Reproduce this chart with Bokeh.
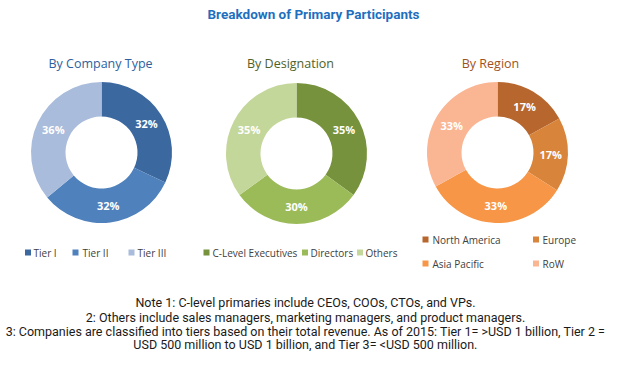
import math
from bokeh.plotting import figure
from bokeh.models import Range1d, ColumnDataSource
from bokeh.core.properties import value
from bokeh.embed import file_html
from bokeh.resources import INLINE

# ---------------- data ----------------
title = "Breakdown of Primary Participants"

company_title = "By Company Type"
company_cats = ["Tier I", "Tier II", "Tier III"]
company_vals = [32, 32, 36]
company_colors = ["#3C68A0", "#4F81BD", "#A9BCDB"]

desig_title = "By Designation"
desig_cats = ["C-Level Executives", "Directors", "Others"]
desig_vals = [35, 30, 35]
desig_colors = ["#76923C", "#9BBB59", "#C4D79B"]

region_title = "By Region"
region_cats = ["North America", "Europe", "Asia Pacific", "RoW"]
region_vals = [17, 17, 33, 33]
region_colors = ["#B7672E", "#D9843B", "#F79646", "#FAB593"]

notes = [
    "Note 1: C-level primaries include CEOs, COOs, CTOs, and VPs.",
    "2: Others include sales managers, marketing managers, and product managers.",
    "3: Companies are classified into tiers based on their total revenue. As of 2015: Tier 1= >USD 1 billion, Tier 2 =",
    "USD 500 million to USD 1 billion, and Tier 3= <USD 500 million.",
]

# ---------------- layout ----------------
W, H = 609, 351
p = figure(width=W, height=H, output_backend="svg", toolbar_location=None,
           x_range=Range1d(0, W), y_range=Range1d(367 - H, 367),
           min_border=0, outline_line_color=None)
p.axis.visible = False
p.grid.visible = False
p.background_fill_color = "white"
p.border_fill_color = "white"


def Y(py):
    return 367 - py


LABEL_FONT = "Open Sans"
NOTE_FONT = "Roboto"


def donut(cx, cy, vals, colors, r_out=70.5, r_in=36):
    total = float(sum(vals))
    cum = 0.0
    starts, ends, lx, ly, labels = [], [], [], [], []
    for v in vals:
        a0 = cum / total
        cum += v
        a1 = cum / total
        starts.append(math.pi / 2 - 2 * math.pi * a1)
        ends.append(math.pi / 2 - 2 * math.pi * a0)
        mid = math.pi / 2 - 2 * math.pi * (a0 + a1) / 2
        rm = (r_out + r_in) / 2
        lx.append(cx + rm * math.cos(mid))
        ly.append(Y(cy) + rm * math.sin(mid))
        labels.append(f"{v}%")
    src = ColumnDataSource(dict(s=starts, e=ends, c=colors))
    p.annular_wedge(x=cx, y=Y(cy), inner_radius=r_in, outer_radius=r_out,
                    start_angle="s", end_angle="e", fill_color="c",
                    line_color=None, source=src)
    p.text(x=lx, y=ly, text=labels, text_color="white",
           text_font=value(LABEL_FONT), text_font_size="11px",
           text_font_style="bold", text_align="center", text_baseline="middle")


def legend_item(mx, ty, tx, color, label):
    p.rect(x=[mx], y=[Y(ty)], width=6, height=6, fill_color=color, line_color=None)
    p.text(x=[tx], y=[Y(ty)], text=[label], text_color="#404040",
           text_font=value(LABEL_FONT), text_font_size="10px",
           text_align="left", text_baseline="middle")


# main title
p.text(x=[313], y=[Y(13)], text=[title], text_color="#1F6FC0",
       text_font=value(NOTE_FONT), text_font_size="13.5px", text_font_style="bold",
       text_align="center", text_baseline="middle")

# subtitles
for tx, t, col in [(100, company_title, "#2E5F9E"),
                   (290, desig_title, "#4F6228"),
                   (490, region_title, "#A0521A")]:
    p.text(x=[tx], y=[Y(63)], text=[t], text_color=col,
           text_font=value(LABEL_FONT), text_font_size="12.5px",
           text_align="center", text_baseline="middle")

donut(101, 152, company_vals, company_colors)
donut(296, 153, desig_vals, desig_colors)
donut(497, 152, region_vals, region_colors)

# legends
comp_pos = [(27.5, 33), (75, 82), (131, 137)]
for (mx, tx), c, lab in zip(comp_pos, company_colors, company_cats):
    legend_item(mx, 252, tx, c, lab)
des_pos = [(206, 212), (304.5, 310), (359.5, 365)]
for (mx, tx), c, lab in zip(des_pos, desig_colors, desig_cats):
    legend_item(mx, 252, tx, c, lab)
reg_pos = [(425, 432, 239), (535.5, 542, 239), (425, 432, 263), (535.5, 542, 263)]
for (mx, tx, ty), c, lab in zip(reg_pos, region_colors, region_cats):
    legend_item(mx, ty, tx, c, lab)

# notes
for ny, line in zip([302, 316.5, 331, 344], notes):
    p.text(x=[305], y=[Y(ny)], text=[line], text_color="#1A1A1A",
           text_font=value(NOTE_FONT), text_font_size="12.5px",
           text_align="center", text_baseline="middle")

open("out.html", "w").write(file_html(p, INLINE))
